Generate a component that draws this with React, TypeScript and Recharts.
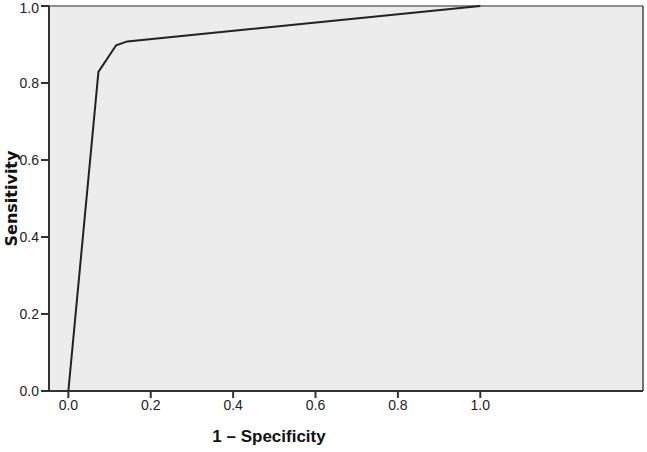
import { CartesianGrid, Label, Line, LineChart, ReferenceLine, XAxis, YAxis } from 'recharts';

const FPR = [0, 0.073, 0.116, 0.143, 1.0];
const TPR = [0, 0.829, 0.898, 0.908, 1.0];
const X_TICKS = [0, 0.2, 0.4, 0.6, 0.8, 1.0];
const Y_TICKS = [0, 0.2, 0.4, 0.6, 0.8, 1.0];

const X_MIN = -0.047;
const X_MAX = 1.395;

const data = FPR.map((fpr, i) => ({ fpr, tpr: TPR[i] }));

const tickStyle = { fontSize: 14, fill: '#222', fontFamily: '"Liberation Sans", Arial, sans-serif' };

export default function App() {
  return (
    <div style={{ position: 'absolute', left: 0, top: 0 }}>
      <LineChart width={647} height={452} data={data} margin={{ top: 6, right: 4, bottom: 6, left: 0 }}>
        <CartesianGrid horizontal={false} vertical={false} fill="#ececec" stroke="none" />
        <ReferenceLine y={1} stroke="#8c8c8c" strokeWidth={2} />
        <ReferenceLine x={X_MAX} stroke="#444" strokeWidth={1.5} />
        <XAxis
          type="number"
          dataKey="fpr"
          domain={[X_MIN, X_MAX]}
          ticks={X_TICKS}
          tickFormatter={(v: number) => v.toFixed(1)}
          tick={tickStyle}
          axisLine={{ stroke: '#333', strokeWidth: 2 }}
          tickLine={{ stroke: '#333', strokeWidth: 2 }}
          tickSize={7}
          height={55}
        >
          <Label
            value="1 – Specificity"
            position="insideBottom"
            offset={4}
            dx={-77}
            style={{ fontSize: 17, fontWeight: 'bold', fill: '#111', fontFamily: '"Liberation Sans", Arial, sans-serif' }}
          />
        </XAxis>
        <YAxis
          type="number"
          domain={[0, 1]}
          ticks={Y_TICKS}
          tickFormatter={(v: number) => v.toFixed(1)}
          tick={tickStyle}
          axisLine={{ stroke: '#333', strokeWidth: 2 }}
          tickLine={{ stroke: '#333', strokeWidth: 2 }}
          tickSize={8}
          width={49}
        >
          <Label
            value="Sensitivity"
            angle={-90}
            position="insideLeft"
            offset={11}
            style={{ textAnchor: 'middle', fontSize: 16, fontWeight: 'bold', fill: '#111', fontFamily: '"DejaVu Sans", Verdana, sans-serif' }}
          />
        </YAxis>
        <Line
          type="linear"
          dataKey="tpr"
          stroke="#222"
          strokeWidth={2}
          dot={false}
          isAnimationActive={false}
        />
      </LineChart>
    </div>
  );
}
